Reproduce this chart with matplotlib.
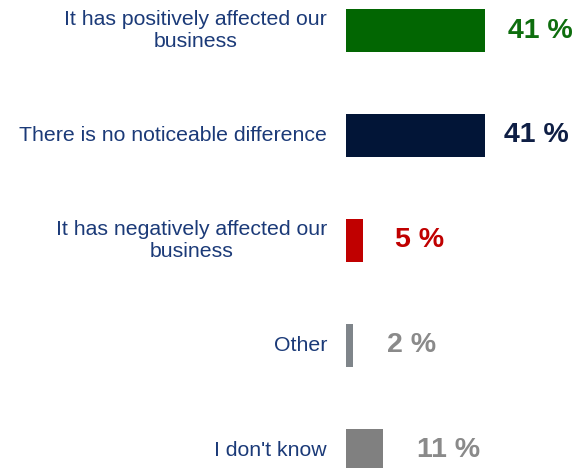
import matplotlib.pyplot as plt

# survey answers, top to bottom
categories = [
    'It has positively affected our\nbusiness',
    'There is no noticeable difference',
    'It has negatively affected our\nbusiness',
    'Other',
    "I don't know",
]
shares = [41, 41, 5, 2, 11]
bar_colors = ['#026602', '#021537', '#C00000', '#7F858A', '#808080']
value_colors = ['#0E6E0E', '#0F1F45', '#C00000', '#8A8A8A', '#8A8A8A']
label_color = '#1B3A78'

plt.rcParams['font.family'] = ['Liberation Sans', 'DejaVu Sans']

fig = plt.figure(figsize=(5.82, 4.68), dpi=100)
# axes starts where the bars start; category labels sit in the margin to the left
ax = fig.add_axes([346 / 582, 0, 236 / 582, 1])

ypos = list(range(len(categories)))
ax.barh(ypos, shares, height=0.41, color=bar_colors)

ax.set_xlim(0, 236 / 3.39)
ax.set_ylim(4 + 17.5 / 105, -30.5 / 105)
ax.axis('off')

# horizontal gap (points) between bar end and the centre of its value label
value_offsets = [40, 37, 41, 42, 47]

for y, cat, val, vc, off in zip(ypos, categories, shares, value_colors, value_offsets):
    ax.text(-19 / 236, y, cat, transform=ax.get_yaxis_transform(),
            ha='right', va='center', multialignment='center',
            fontsize=15.3, color=label_color, linespacing=1.18)
    ax.annotate(f'{val} %', xy=(val, y), xytext=(off, 0),
                textcoords='offset points', ha='center', va='center',
                fontsize=20.5, fontweight='bold', color=vc)

fig.savefig('out.png', dpi=100, facecolor='white')
